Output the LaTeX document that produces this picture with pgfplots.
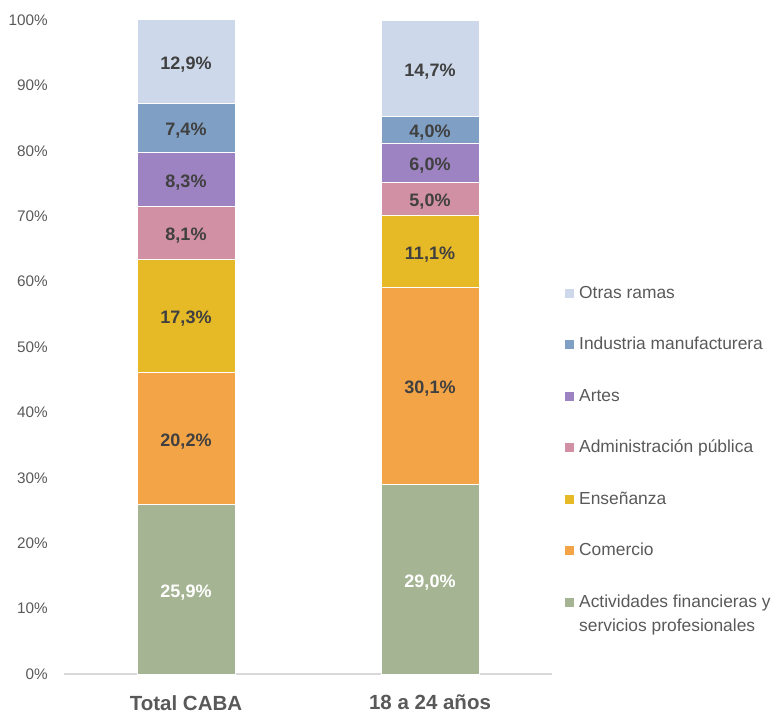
\documentclass[border=0pt]{standalone}
\usepackage{pgfplots}
\pgfplotsset{compat=1.18}
\usepackage{fontspec}
\setmainfont{Liberation Sans}
\definecolor{cOtras}{HTML}{CDD9EA}
\definecolor{cInd}{HTML}{7F9FC4}
\definecolor{cArt}{HTML}{9D83C1}
\definecolor{cAdm}{HTML}{D190A4}
\definecolor{cEns}{HTML}{E6B926}
\definecolor{cCom}{HTML}{F2A446}
\definecolor{cAct}{HTML}{A5B593}
\definecolor{tgrey}{HTML}{595959}
\definecolor{dgrey}{HTML}{404040}
\definecolor{lgrey}{HTML}{D9D9D9}
\begin{document}
\begin{tikzpicture}
\path[use as bounding box] (0,0) rectangle (774bp,713bp);
\begin{axis}[
  at={(64bp,39bp)}, anchor=south west,
  scale only axis, width=488bp, height=654bp,
  ybar stacked, bar width=98bp,
  xmin=-0.5, xmax=1.5, ymin=0, ymax=100,
  clip=false,
  xtick={0,1}, xticklabels={Total CABA, 18 a 24 años},
  ytick={0,10,...,100},
  yticklabel={\pgfmathprintnumber{\tick}\%},
  /pgf/number format/assume math mode=true,
  axis x line=bottom, axis y line=left,
  x axis line style={draw=lgrey, line width=1.3bp, -},
  y axis line style={draw=none},
  major tick length=0pt,
  yticklabel style={font=\fontsize{15.3bp}{18bp}\selectfont, text=tgrey, anchor=east, inner sep=0pt, xshift=-16bp},
  xticklabel style={font=\fontsize{20.5bp}{24bp}\selectfont\bfseries, text=tgrey, anchor=north, inner sep=0pt, yshift=-21bp},
  nodes near coords={\pgfmathprintnumber[fixed,fixed zerofill,precision=1,use comma]{\pgfplotspointmeta}\%},
  every node near coord/.append style={font=\fontsize{18bp}{21bp}\selectfont\bfseries, text=dgrey, anchor=center, yshift=-3bp},
  legend image code/.code={\path[#1,draw=none] (0bp,-4.5bp) rectangle (9bp,4.5bp);},
  reverse legend,
  legend cell align=left,
  legend style={draw=none, fill=none, at={(1.0266,0.593)}, anchor=north west, inner sep=0pt,
    font=\fontsize{17.4bp}{24bp}\selectfont, text=tgrey, row sep=38bp,
    nodes={inner sep=0pt, text height=12bp},
    /tikz/every odd column/.append style={column sep=5bp}},
]
\addplot[fill=cAct, draw=white, line width=0.6bp, every node near coord/.append style={text=white}] coordinates {(0,25.9) (1,29.0)};
\addlegendentry{\parbox[t]{7cm}{Actividades financieras y\\servicios profesionales}}
\addplot[fill=cCom, draw=white, line width=0.6bp] coordinates {(0,20.2) (1,30.1)};
\addlegendentry{Comercio}
\addplot[fill=cEns, draw=white, line width=0.6bp] coordinates {(0,17.3) (1,11.1)};
\addlegendentry{Enseñanza}
\addplot[fill=cAdm, draw=white, line width=0.6bp] coordinates {(0,8.1) (1,5.0)};
\addlegendentry{Administración pública}
\addplot[fill=cArt, draw=white, line width=0.6bp] coordinates {(0,8.3) (1,6.0)};
\addlegendentry{Artes}
\addplot[fill=cInd, draw=white, line width=0.6bp] coordinates {(0,7.4) (1,4.0)};
\addlegendentry{Industria manufacturera}
\addplot[fill=cOtras, draw=white, line width=0.6bp] coordinates {(0,12.9) (1,14.7)};
\addlegendentry{Otras ramas}
\end{axis}
\end{tikzpicture}
\end{document}
